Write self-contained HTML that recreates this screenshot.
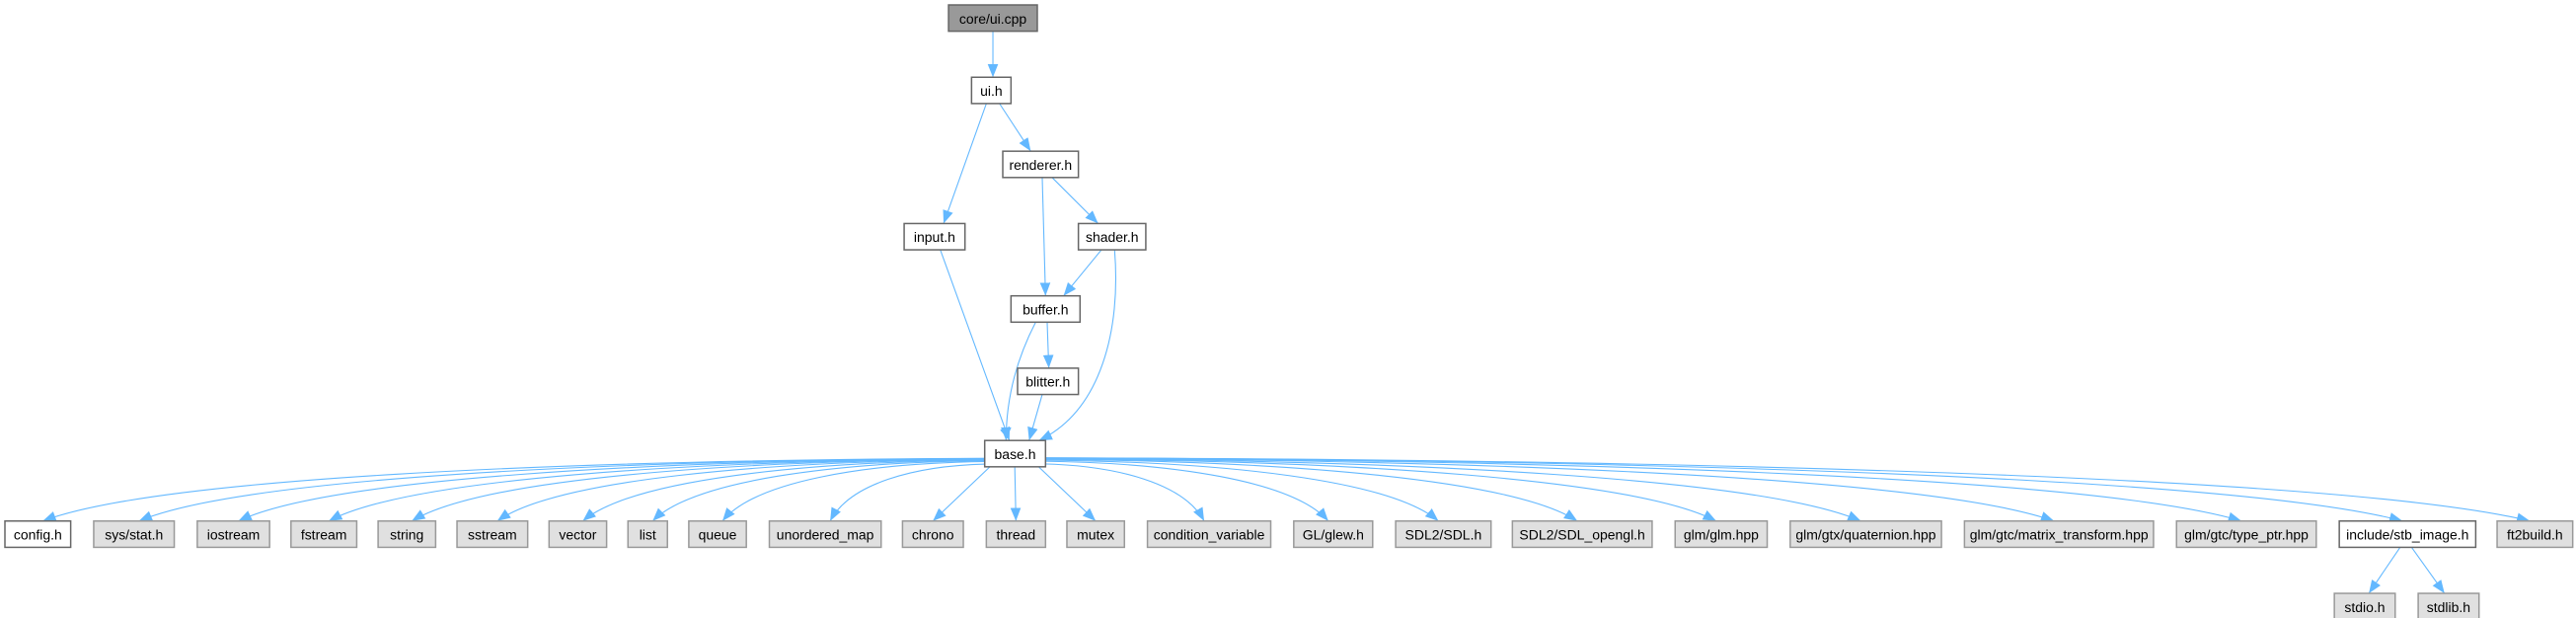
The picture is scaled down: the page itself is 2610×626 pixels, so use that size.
<!DOCTYPE html>
<html><head><meta charset="utf-8"><style>
html,body{margin:0;padding:0;background:#fff;}
svg{display:block;}
text{font-family:"Liberation Sans",Arial,sans-serif;font-size:8.4px;fill:#000;text-anchor:middle;dominant-baseline:central;}
.w{fill:#fff;stroke:#666;stroke-width:0.9;}
.g{fill:#e0e0e0;stroke:#999;stroke-width:0.9;}
.d{fill:#999;stroke:#666;stroke-width:0.9;}
.e{fill:none;stroke:#63b8ff;stroke-width:0.65;}
</style></head><body>
<svg width="2610" height="626" viewBox="0 0 1567 376" preserveAspectRatio="none" xmlns="http://www.w3.org/2000/svg">
<defs><marker id="a" viewBox="0 0 10 10" refX="10" refY="5" markerWidth="8" markerHeight="8" orient="auto" markerUnits="userSpaceOnUse"><path d="M0,1 L10,5 L0,9 z" fill="#63b8ff"/></marker></defs>
<g class="e" marker-end="url(#a)">
<path d="M604,19 L604,47"/>
<path d="M600,63 L574,136"/>
<path d="M608,63 L627,92"/>
<path d="M634,108 L636,180"/>
<path d="M640,108 L668,136"/>
<path d="M670,152 L647,180"/>
<path d="M637,196 L638,224"/>
<path d="M572,152 L614,268"/>
<path d="M630,196 C615,225 612,250 612,268"/>
<path d="M634,240 L626,268"/>
<path d="M678,152 C682,200 670,250 632,268"/>
</g>
<g class="e" marker-end="url(#a)" id="fan"></g>
<g id="nodes"></g>
<script>
var ns="http://www.w3.org/2000/svg";
var nodes=[
["core/ui.cpp",577,3,54,"d"],["ui.h",591,47,24,"w"],["renderer.h",610,92,46,"w"],
["input.h",550,136,37,"w"],["shader.h",656,136,41,"w"],["buffer.h",615,180,42,"w"],
["blitter.h",619,224,37,"w"],["base.h",599,268,37,"w"],
["stdio.h",1420,361,37,"g"],["stdlib.h",1471,361,37,"g"]];
var row=[["config.h",3,43,"w"],["sys/stat.h",57,106],["iostream",120,164],["fstream",177,217],["string",230,265],["sstream",278,321],["vector",334,369],["list",382,406],["queue",419,454],["unordered_map",468,536],["chrono",549,586],["thread",600,636],["mutex",649,684],["condition_variable",698,773],["GL/glew.h",787,835],["SDL2/SDL.h",849,907],["SDL2/SDL_opengl.h",920,1005],["glm/glm.hpp",1019,1075],["glm/gtx/quaternion.hpp",1089,1181],["glm/gtc/matrix_transform.hpp",1195,1310],["glm/gtc/type_ptr.hpp",1324,1409],["include/stb_image.h",1423,1506,"w"],["ft2build.h",1519,1565]];
row.forEach(function(r){nodes.push([r[0],r[1],317,r[2]-r[1],r[3]||"g"]);});
var fan=document.getElementById("fan");
row.forEach(function(r){
 var cx=(r[1]+r[2])/2,sx,sy,d,ex;
 if(Math.abs(cx-617)<60){sx=617+(cx-617)*0.3;sy=284;d="M"+sx+","+sy+" L"+cx+",317";}
 else{sx=cx<617?600:634;sy=278+Math.min(5,500/Math.abs(cx-617));
  ex=cx+(cx<617?3:-3);
  d="M"+sx+","+sy+" C"+(sx+(cx-sx)*0.45)+","+(sy+1)+" "+(ex-(cx-sx)*0.12)+","+(sy+12)+" "+ex+",317";}
 var p=document.createElementNS(ns,"path");p.setAttribute("d",d);fan.appendChild(p);
});
[[1460,1441],[1467,1487]].forEach(function(q){var p=document.createElementNS(ns,"path");p.setAttribute("d","M"+q[0]+",333 L"+q[1]+",361");fan.appendChild(p);});
var g=document.getElementById("nodes");
nodes.forEach(function(n){
 var r=document.createElementNS(ns,"rect");r.setAttribute("x",n[1]);r.setAttribute("y",n[2]);r.setAttribute("width",n[3]);r.setAttribute("height",16);r.setAttribute("class",n[4]);g.appendChild(r);
 var t=document.createElementNS(ns,"text");t.setAttribute("x",n[1]+n[3]/2);t.setAttribute("y",n[2]+8.3);t.textContent=n[0];g.appendChild(t);
});
</script>
</svg>
</body></html>
